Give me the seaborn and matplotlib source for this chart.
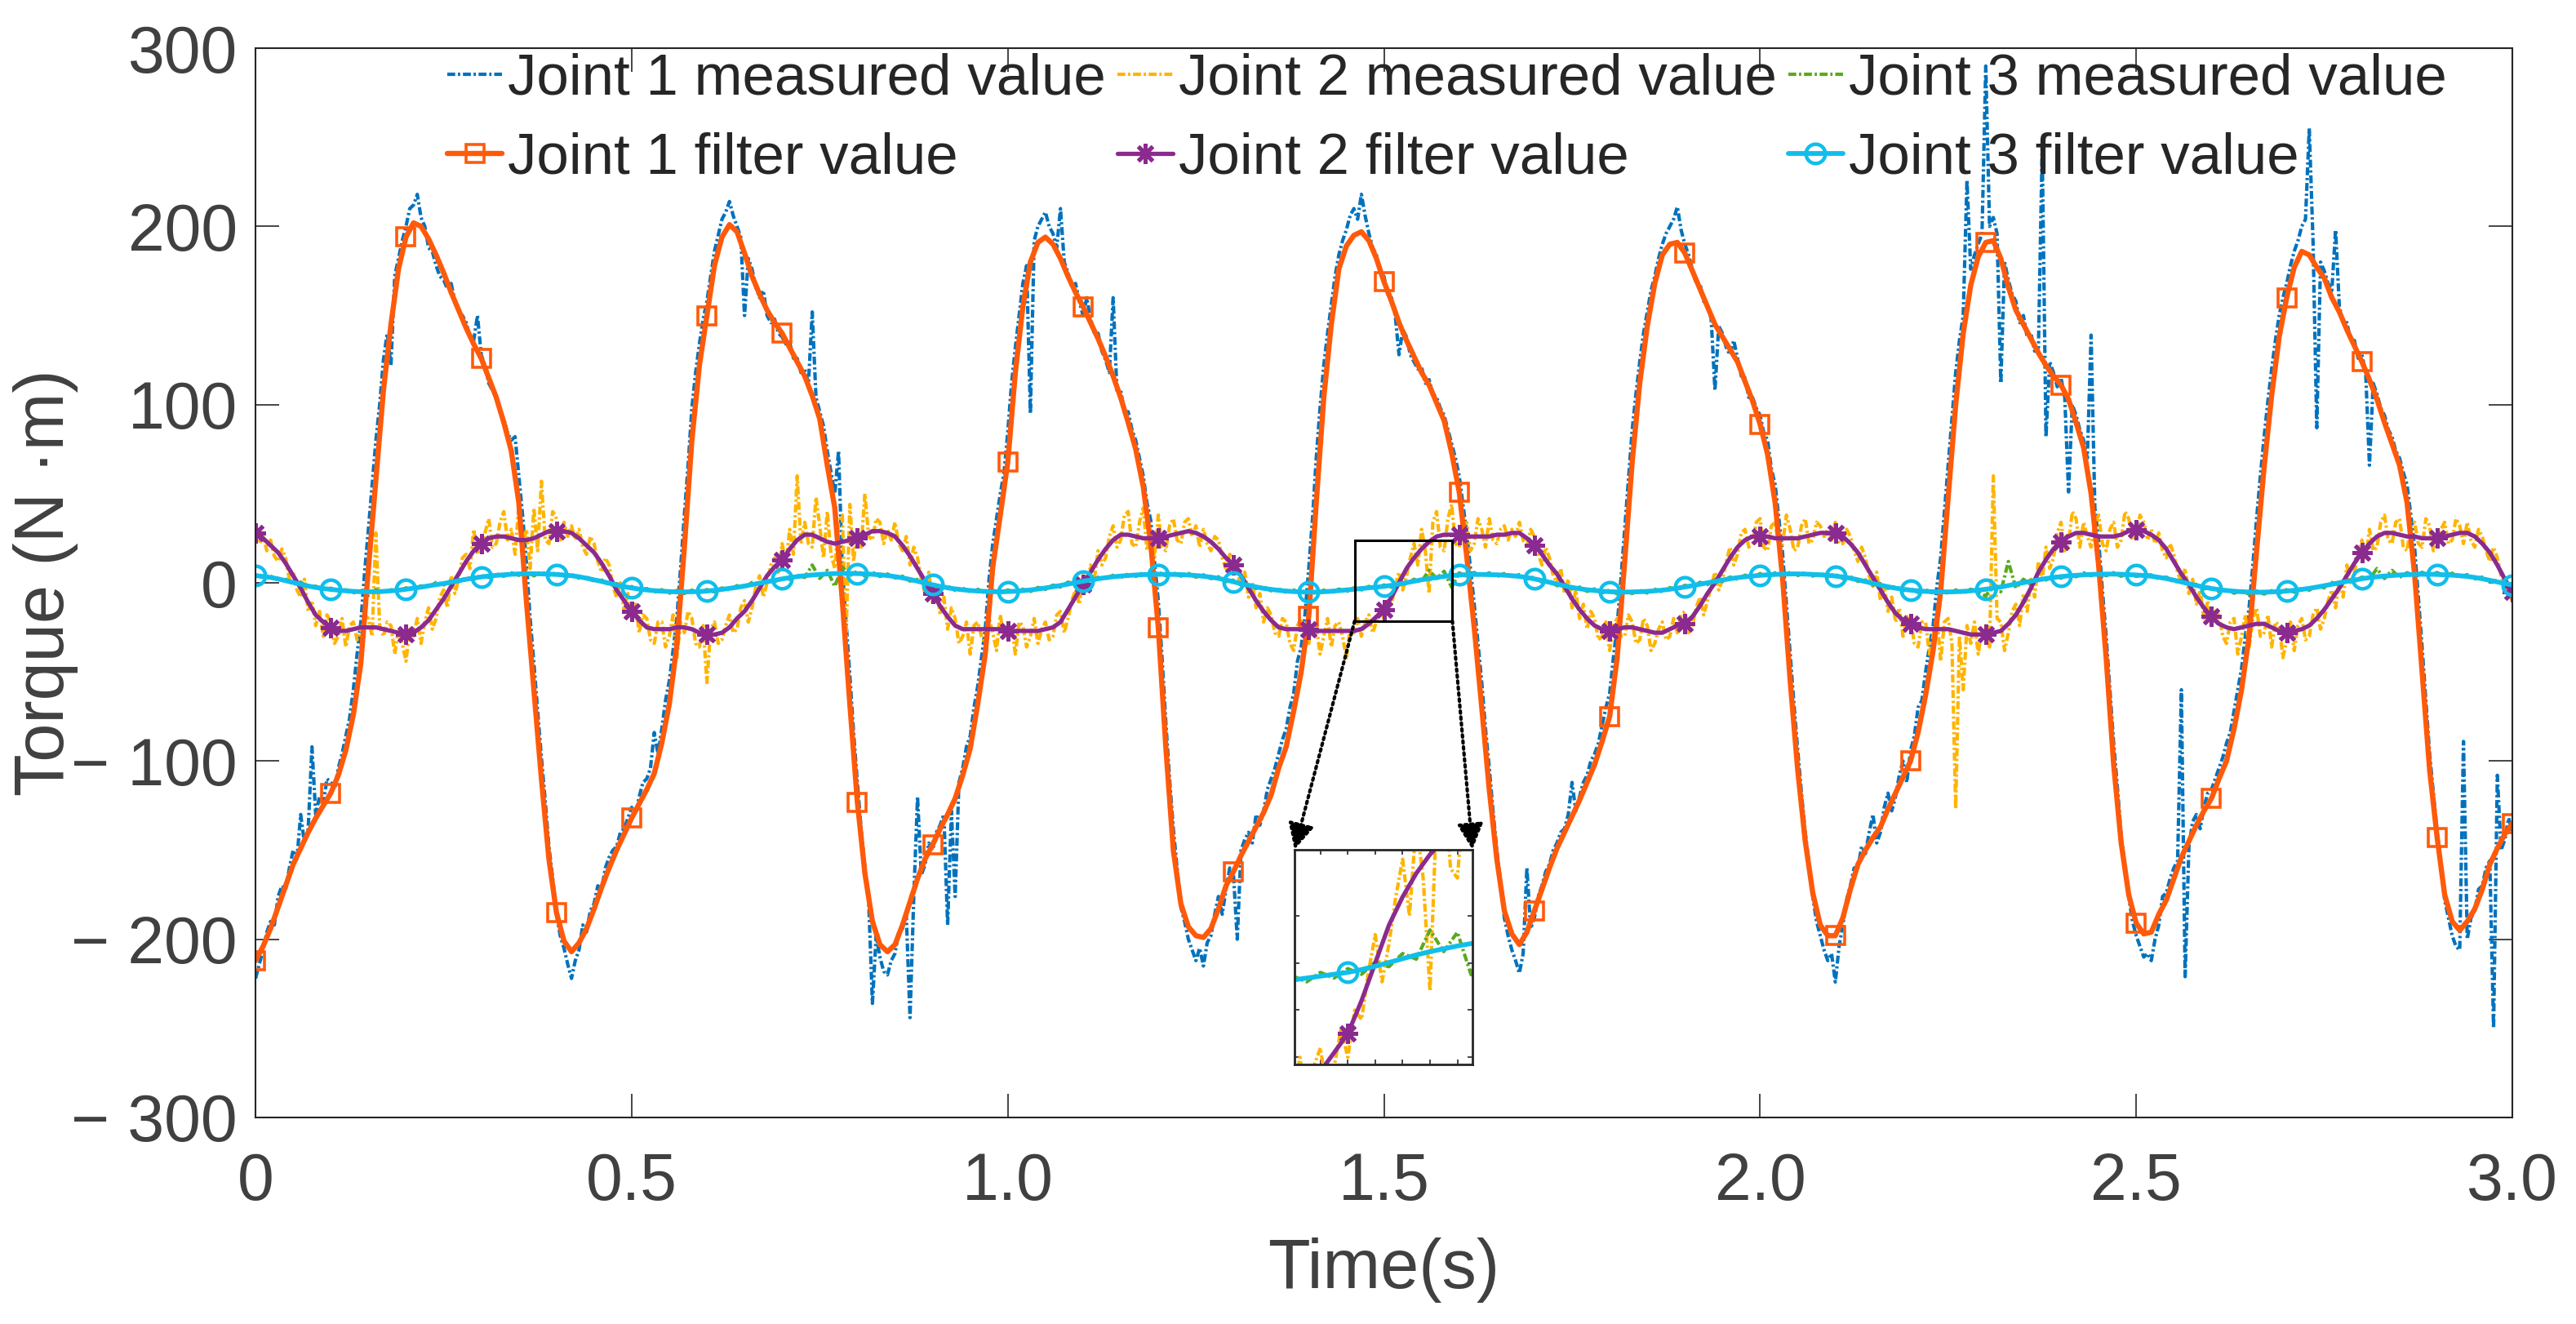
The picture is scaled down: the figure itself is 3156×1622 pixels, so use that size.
import numpy as np
import matplotlib
matplotlib.use('Agg')
import matplotlib.pyplot as plt
import seaborn as sns
from matplotlib.patches import Rectangle, ConnectionPatch
from matplotlib.ticker import FuncFormatter

# ---- data ---------------------------------------------------------------
# filter curves, sampled every 0.01 s (0 .. 3 s)
joint1_filter = [
    -212, -204, -194, -182, -170, -158, -149, -140, -132, -125,
    -118, -108, -94, -74, -45, 8, 58, 108, 145, 176,
    194, 202, 200, 193, 184, 174, 163, 153, 143, 134,
    126, 115, 104, 90, 74, 45, -10, -60, -110, -155,
    -185, -201, -207, -202, -194, -183, -171, -160, -150, -141,
    -132, -124, -116, -107, -90, -68, -35, 20, 80, 122,
    150, 178, 194, 201, 197, 185, 172, 162, 153, 146,
    140, 132, 124, 116, 105, 92, 66, 42, -10, -68,
    -123, -163, -190, -203, -207, -203, -192, -179, -166, -155,
    -147, -138, -130, -121, -108, -93, -68, -40, 9, 38,
    68, 118, 155, 180, 191, 194, 190, 182, 172, 163,
    155, 146, 137, 127, 116, 104, 90, 75, 54, 22,
    -25, -92, -150, -180, -193, -198, -199, -194, -183, -170,
    -162, -153, -145, -137, -129, -119, -104, -92, -72, -50,
    -19, 45, 104, 145, 176, 189, 195, 197, 192, 182,
    169, 158, 146, 136, 127, 118, 111, 101, 91, 73,
    51, 15, -25, -70, -116, -155, -184, -197, -203, -196,
    -184, -172, -160, -149, -140, -131, -122, -112, -102, -89,
    -75, -42, 12, 68, 112, 144, 168, 184, 190, 191,
    185, 175, 165, 155, 145, 138, 131, 124, 113, 102,
    89, 72, 45, 2, -55, -105, -145, -174, -192, -198,
    -198, -188, -172, -158, -150, -143, -137, -127, -118, -109,
    -100, -84, -63, -38, -5, 48, 100, 140, 167, 183,
    191, 192, 182, 166, 153, 145, 137, 129, 122, 116,
    111, 103, 90, 76, 50, 10, -42, -102, -146, -175,
    -191, -197, -196, -186, -178, -166, -154, -145, -136, -128,
    -121, -110, -100, -82, -60, -30, 18, 65, 105, 138,
    160, 177, 186, 184, 177, 171, 160, 152, 142, 133,
    124, 114, 103, 90, 78, 66, 45, 5, -50, -105,
    -143, -175, -190, -195, -190, -183, -172, -158, -149, -141,
    -135,
]
joint2_filter = [
    28, 25, 21, 17, 11, 4, -3, -11, -18, -22,
    -25, -27, -27, -26, -25, -25, -25, -26, -27, -28,
    -29, -28, -25, -21, -15, -9, -2, 5, 12, 18,
    22, 25, 26, 26, 25, 24, 24, 25, 27, 29,
    29, 29, 28, 25, 21, 17, 11, 4, -4, -10,
    -16, -21, -25, -26, -26, -26, -25, -25, -26, -28,
    -29, -29, -28, -25, -20, -16, -10, -3, 4, 9,
    13, 19, 24, 27, 27, 25, 23, 22, 23, 24,
    25, 27, 29, 29, 28, 26, 21, 15, 8, 1,
    -6, -13, -19, -24, -26, -26, -26, -26, -26, -26,
    -27, -27, -27, -27, -27, -26, -25, -22, -15, -8,
    -1, 6, 13, 19, 24, 27, 27, 26, 25, 25,
    25, 26, 27, 28, 29, 28, 26, 23, 19, 14,
    10, 4, -3, -10, -16, -21, -25, -26, -26, -26,
    -26, -27, -27, -27, -27, -27, -27, -26, -23, -19,
    -15, -8, 0, 8, 14, 19, 23, 26, 27, 27,
    27, 26, 26, 26, 26, 27, 27, 28, 28, 25,
    21, 16, 10, 5, -2, -9, -15, -20, -24, -26,
    -27, -26, -25, -25, -26, -27, -28, -28, -26, -24,
    -23, -19, -13, -6, 0, 7, 14, 20, 24, 26,
    26, 26, 25, 25, 25, 25, 26, 27, 28, 28,
    28, 26, 22, 17, 10, 3, -4, -11, -17, -21,
    -23, -25, -26, -26, -26, -26, -27, -28, -29, -29,
    -29, -28, -27, -23, -18, -11, -3, 6, 13, 19,
    23, 26, 28, 28, 27, 26, 26, 26, 27, 29,
    30, 29, 27, 24, 19, 12, 5, -1, -8, -14,
    -19, -23, -25, -26, -25, -24, -23, -23, -25, -27,
    -28, -27, -26, -24, -20, -15, -9, -3, 4, 11,
    17, 22, 26, 28, 28, 27, 26, 26, 25, 25,
    25, 26, 27, 28, 28, 26, 22, 17, 10, 2,
    -5,
]
joint3_filter = [
    4.0, 3.6, 3.0, 2.2, 1.2, 0.2, -0.8, -1.8, -2.6, -3.2,
    -3.7, -4.1, -4.5, -4.8, -5.0, -5.0, -5.0, -4.8, -4.5, -4.1,
    -3.6, -3.0, -2.4, -1.7, -1.0, -0.4, 0.4, 1.2, 2.0, 2.7,
    3.3, 3.8, 4.2, 4.5, 4.8, 5.0, 5.1, 5.1, 5.0, 4.9,
    4.7, 4.4, 4.0, 3.4, 2.6, 1.7, 0.8, -0.2, -1.2, -2.1,
    -2.9, -3.5, -4.0, -4.4, -4.7, -4.9, -5.1, -5.1, -5.0, -4.9,
    -4.6, -4.2, -3.7, -3.1, -2.5, -1.8, -1.0, -0.2, 0.6, 1.4,
    2.2, 2.9, 3.5, 4.0, 4.4, 4.7, 5.0, 5.2, 5.3, 5.3,
    5.2, 5.0, 4.8, 4.5, 4.1, 3.5, 2.8, 1.9, 0.9, -0.1,
    -1.1, -2.0, -2.8, -3.4, -3.9, -4.3, -4.6, -4.8, -5.0, -5.0,
    -4.9, -4.7, -4.4, -4.0, -3.5, -2.9, -2.2, -1.5, -0.7, 0.1,
    0.9, 1.6, 2.3, 2.9, 3.4, 3.8, 4.1, 4.4, 4.6, 4.7,
    4.8, 4.8, 4.7, 4.6, 4.4, 4.1, 3.7, 3.2, 2.5, 1.6,
    0.6, -0.4, -1.4, -2.3, -3.1, -3.7, -4.2, -4.6, -4.9, -5.1,
    -5.2, -5.2, -5.0, -4.7, -4.4, -4.0, -3.6, -3.2, -2.8, -2.4,
    -2.0, -1.4, -0.7, 0.1, 0.9, 1.7, 2.4, 3.0, 3.6, 4.1,
    4.4, 4.6, 4.7, 4.7, 4.6, 4.5, 4.3, 4.0, 3.6, 3.0,
    2.2, 1.3, 0.3, -0.7, -1.7, -2.6, -3.3, -3.9, -4.3, -4.7,
    -5.0, -5.1, -5.2, -5.1, -5.0, -4.8, -4.5, -4.1, -3.6, -3.0,
    -2.3, -1.6, -0.8, 0.0, 0.8, 1.6, 2.3, 2.9, 3.4, 3.8,
    4.2, 4.5, 4.7, 4.9, 5.0, 5.0, 4.9, 4.7, 4.5, 4.2,
    3.8, 3.3, 2.6, 1.7, 0.7, -0.3, -1.3, -2.2, -3.0, -3.6,
    -4.1, -4.5, -4.8, -5.0, -5.1, -5.1, -5.0, -4.8, -4.5, -4.1,
    -3.6, -3.0, -2.3, -1.5, -0.7, 0.1, 0.9, 1.7, 2.4, 3.0,
    3.5, 3.9, 4.2, 4.5, 4.7, 4.8, 4.9, 4.9, 4.8, 4.6,
    4.4, 4.1, 3.7, 3.1, 2.4, 1.5, 0.5, -0.5, -1.5, -2.4,
    -3.2, -3.8, -4.3, -4.7, -5.0, -5.2, -5.3, -5.2, -5.1, -4.9,
    -4.6, -4.2, -3.7, -3.1, -2.4, -1.6, -0.8, 0.0, 0.8, 1.6,
    2.3, 2.9, 3.4, 3.8, 4.1, 4.4, 4.6, 4.7, 4.8, 4.8,
    4.7, 4.5, 4.3, 4.0, 3.6, 3.0, 2.3, 1.4, 0.5, -0.4,
    -1.2,
]

# measured joint 1 and joint 2, sampled every 0.005 s
joint1_measured = [
    -222, -214, -206, -196, -190, -192, -176, -170, -172, -160, -150, -155, -130, -146, -138, -92, -130, -120, -124, -110,
    -112, -116, -104, -96, -86, -76, -60, -40, -22, 6, 30, 55, 80, 100, 125, 140, 122, 172, 182, 192,
    200, 210, 212, 218, 205, 200, 188, 186, 178, 172, 170, 165, 168, 158, 152, 150, 146, 138, 136, 150,
    128, 122, 112, 108, 105, 96, 92, 84, 80, 82, 60, 38, 12, -20, -45, -72, -98, -122, -148, -166,
    -186, -198, -205, -214, -222, -212, -206, -192, -196, -184, -180, -170, -172, -160, -154, -150, -148, -140, -138, -132,
    -126, -130, -120, -112, -110, -104, -84, -96, -82, -66, -55, -38, -20, 8, 38, 66, 98, 118, 134, 148,
    158, 172, 186, 195, 204, 208, 214, 206, 200, 194, 150, 182, 176, 166, 160, 164, 150, 146, 148, 140,
    138, 134, 135, 126, 126, 118, 120, 112, 152, 104, 96, 88, 74, 62, 50, 74, 8, -22, -52, -84,
    -112, -138, -160, -178, -236, -198, -210, -218, -220, -212, -208, -196, -194, -186, -244, -176, -120, -164, -158, -146,
    -150, -140, -136, -130, -192, -128, -176, -112, -104, -92, -86, -70, -58, -42, -26, 2, 22, 36, 50, 62,
    85, 112, 132, 150, 168, 178, 95, 192, 200, 204, 208, 200, 196, 188, 210, 180, 174, 166, 168, 158,
    150, 160, 148, 140, 140, 130, 125, 118, 160, 108, 108, 96, 96, 86, 80, 70, 60, 45, 35, 12,
    -10, -42, -78, -110, -138, -160, -182, -190, -200, -206, -212, -205, -215, -202, -198, -186, -176, -186, -172, -160,
    -164, -200, -150, -144, -140, -146, -130, -136, -128, -116, -110, -104, -96, -88, -82, -70, -62, -44, -36, -18,
    8, 36, 70, 98, 122, 140, 156, 172, 184, 192, 198, 206, 210, 204, 218, 206, 196, 188, 184, 174,
    172, 162, 160, 150, 128, 142, 138, 128, 124, 120, 121, 112, 114, 106, 104, 98, 94, 86, 78, 70,
    60, 44, 28, 8, -12, -34, -56, -82, -104, -128, -150, -168, -188, -198, -206, -212, -219, -208, -160, -194,
    -188, -176, -170, -162, -158, -150, -146, -140, -138, -130, -112, -128, -120, -112, -108, -100, -96, -90, -80, -70,
    -62, -42, -24, 2, 30, 58, 86, 106, 124, 140, 152, 164, 172, 182, 190, 196, 200, 204, 211, 198,
    190, 184, 176, 168, 168, 158, 156, 148, 108, 144, 140, 132, 128, 136, 126, 116, 115, 104, 104, 98,
    94, 84, 80, 64, 55, 36, 16, -12, -40, -68, -94, -118, -140, -158, -176, -190, -198, -206, -212, -208,
    -224, -204, -192, -178, -170, -160, -160, -148, -152, -140, -130, -146, -140, -126, -118, -128, -120, -108, -100, -112,
    -94, -86, -70, -66, -50, -36, -24, -2, 14, 40, 66, 92, 118, 136, 150, 226, 176, 184, 190, 196,
    290, 200, 205, 196, 112, 180, 170, 162, 158, 146, 150, 138, 140, 130, 132, 245, 82, 124, 118, 110,
    115, 104, 51, 100, 94, 86, 80, 70, 139, 42, 24, -4, -30, -60, -90, -115, -142, -160, -176, -190,
    -198, -204, -210, -208, -212, -200, -192, -176, -174, -166, -160, -156, -60, -221, -148, -134, -130, -138, -126, -118,
    -116, -110, -104, -98, -90, -84, -72, -60, -48, -30, -14, 10, 36, 60, 82, 102, 120, 136, 150, 160,
    168, 178, 186, 192, 200, 204, 255, 192, 87, 180, 175, 168, 164, 198, 155, 146, 146, 136, 136, 126,
    128, 118, 66, 112, 106, 98, 94, 86, 82, 74, 70, 62, 55, 38, 20, -8, -36, -66, -96, -118,
    -140, -160, -178, -188, -198, -204, -206, -89, -200, -188, -184, -172, -170, -160, -156, -250, -108, -150, -144, -132,
    -140,
]
joint2_measured = [
    30, 22, 26, 18, 24, 15, 12, 19, 14, 2, 6, -4, -8, 2, -16, -10, -24, -16, -30, -18,
    -22, -34, -30, -20, -36, -24, -22, -32, -28, -18, -20, -30, 28, -24, -30, -22, -24, -40, -26, -34,
    -44, -26, -30, -20, -34, -22, -14, -26, -20, -8, -4, -14, 4, -6, 2, 14, 16, 8, 30, 16,
    18, 28, 36, 20, 22, 34, 40, 24, 30, 16, 44, 20, 30, 8, 42, 18, 57, 24, 22, 40,
    36, 24, 34, 26, 32, 24, 30, 20, 16, 26, 22, 12, 6, 14, 10, -2, -8, 0, -16, -6,
    -20, -12, -28, -18, -20, -32, -34, -22, -22, -36, -30, -18, -42, -22, -28, -16, -20, -34, -36, -24,
    -56, -26, -22, -34, -32, -24, -18, -28, -26, -14, -10, -22, -14, -2, 4, -8, 0, 10, 14, 6,
    22, 10, 30, 16, 60, 22, 34, 22, 20, 48, 32, 14, 40, 16, 8, 34, 38, -30, 44, 12,
    30, 20, 50, 26, 24, 36, 34, 22, 30, 24, 34, 22, 18, 26, 10, 20, 14, 2, -6, 6,
    -12, -2, -18, -8, -26, -14, -20, -34, -30, -22, -40, -24, -22, -30, -34, -20, -28, -38, -18, -30,
    -32, -24, -40, -22, -24, -36, -30, -20, -34, -26, -22, -32, -30, -18, -16, -28, -20, -10, -4, -12,
    4, -4, 10, 2, 18, 10, 14, 26, 32, 20, 24, 38, 40, 22, 20, 34, 42, 18, 28, 14,
    38, 20, 18, 32, 36, 24, 22, 34, 36, 26, 32, 20, 30, 22, 18, 26, 24, 14, 8, 16,
    14, 4, 0, 6, -8, 0, -14, -6, -22, -14, -18, -28, -30, -20, -22, -34, -38, -24, -20, -30,
    -34, -22, -24, -40, -30, -20, -36, -24, -22, -30, -42, -26, -28, -20, -30, -22, -18, -28, -22, -14,
    -20, -10, -12, -2, 6, -4, 4, 14, 22, 10, 30, 18, -6, 34, 40, 20, 18, 36, 44, 22,
    20, 32, 34, 18, 22, 36, 30, 20, 36, 24, 22, 30, 32, 24, 30, 26, 34, 24, 20, 30,
    26, 16, 10, 20, 14, 4, 0, 8, -6, 2, -14, -4, -20, -12, -26, -16, -20, -32, -30, -22,
    -38, -24, -20, -30, -30, -18, -22, -34, -32, -20, -24, -38, -34, -26, -22, -32, -30, -20, -28, -18,
    -16, -28, -24, -14, -8, -18, -10, -2, 6, -4, 2, 12, 20, 10, 16, 28, 30, 20, 22, 34,
    36, 20, 18, 32, 34, 20, 22, 38, 30, 18, 20, 32, 36, 22, 24, 34, 32, 26, 30, 24,
    34, 22, 22, 30, 26, 18, 12, 20, 14, 4, -2, 6, -10, -2, -16, -8, -22, -14, -30, -18,
    -20, -34, -36, -22, -22, -40, -30, -18, -44, -22, -20, -34, -127, -30, -60, -24, -34, -22, -40, -26,
    -24, -36, 60, -20, -22, -38, -28, -16, -12, -24, -6, -16, 2, -8, 12, 2, 20, 8, 14, 28,
    34, 18, 22, 40, 36, 20, 34, 26, 20, 34, 38, 22, 18, 30, 34, 20, 24, 40, 36, 24,
    26, 38, 34, 24, 30, 22, 28, 18, 14, 22, 16, 6, 0, 8, -6, 2, -12, -4, -20, -10,
    -24, -16, -18, -30, -34, -22, -20, -40, -30, -18, -36, -20, -14, -30, -28, -18, -36, -22, -24, -42,
    -32, -22, -38, -24, -20, -32, -30, -18, -14, -26, -20, -10, -4, -14, 2, -8, 10, 0, 6, 16,
    24, 14, 30, 18, 20, 34, 38, 24, 22, 34, 36, 20, 18, 32, 34, 22, 20, 36, 32, 18,
    22, 30, 34, 22, 24, 36, 32, 22, 34, 24, 20, 30, 26, 18, 12, 20, 14, 4, -2, -6,
    -10,
]
# measured joint 3, sampled every 0.01 s
joint3_measured = [
    4.5, 3.0, 3.8, 1.6, 2.0, -0.6, 0.4, -2.4, -1.9, -3.8, -3.0, -4.8, -3.9, -5.6, -4.4, -7.0, -3.8, -5.5, -3.9, -4.9,
    -2.8, -3.6, -1.7, -2.5, 0.2, -1.2, 1.3, 0.6, 2.8, 2.0, 4.1, 3.0, 5.0, 3.7, 5.6, 4.2, 7.0, 3.9, 6.0, 4.2, 5.5, 3.8,
    4.8, 2.6, 3.3, 0.9, 1.6, -1.0, -0.4, -2.9, -2.1, -4.3, -3.2, -5.2, -3.9, -5.8, -4.3, -6.0, -4.1, -5.8, -3.8, -5.1,
    -2.9, -4.0, -1.6, -2.7, 0.2, -1.1, 1.5, 0.6, 3.0, 2.0, 4.4, 3.0, 10.0, 2.5, 7.0, -2.0, 9.0, 4.0, 6.5, 3.8, 5.9, 3.6,
    5.0, 2.8, 3.7, 1.0, 1.9, -1.0, -0.2, -2.9, -1.9, -4.2, -3.0, -5.1, -3.6, -5.7, -4.1, -5.9, -4.0, -5.5, -3.6, -4.9,
    -2.6, -3.7, -1.3, -2.4, 0.4, -0.8, 1.8, 0.9, 3.1, 2.1, 4.3, 3.0, 5.0, 3.6, 5.6, 3.9, 5.8, 4.0, 5.6, 3.8, 5.3, 3.2,
    4.5, 2.4, 3.4, 0.7, 1.5, -1.3, -0.6, -3.2, -2.2, -4.5, -3.4, -5.4, -4.0, -6.0, -4.4, -6.1, -4.1, -5.6, -3.5, -5.0,
    -2.8, -4.0, -2.0, -3.2, -1.2, -2.4, 0.2, -0.8, 2.0, 0.8, 7.0, 2.4, 6.5, -2.5, 5.6, 3.6, 5.8, 4.0, 5.6, 3.6, 5.2, 3.5,
    4.6, 2.2, 3.2, 0.4, 1.2, -1.6, -0.8, -3.4, -2.4, -4.8, -3.4, -5.6, -4.1, -6.2, -4.4, -6.0, -4.1, -5.7, -3.6, -5.0,
    -2.7, -3.9, -1.4, -2.6, 0.3, -1.0, 1.7, 0.7, 3.2, 2.0, 4.3, 3.0, 5.2, 3.6, 5.6, 4.0, 5.9, 4.1, 5.7, 3.8, 5.4, 3.4,
    4.8, 2.4, 3.5, 0.8, 1.6, -1.2, -0.4, -3.1, -2.0, -4.5, -3.2, -5.4, -3.9, -5.8, -4.2, -6.0, -4.0, -5.7, -3.6, -5.0,
    -7.5, -1.0, -5.0, 12.0, -3.0, 2.0, -1.0, 3.2, 1.6, 4.0, 2.6, 4.8, 3.4, 5.6, 4.0, 5.8, 4.0, 5.7, 3.7, 5.3, 3.6, 4.6,
    4.4, 2.2, 3.2, 0.5, 1.4, -1.6, -0.8, -3.4, -2.4, -4.9, -3.6, -5.8, -4.3, -6.4, -4.6, -6.3, -4.4, -5.9, -3.8, -5.2,
    -2.9, -4.1, -1.6, -2.8, 0.2, -1.1, 1.6, 0.5, 3.2, 2.0, 8.0, 2.4, 7.0, 3.0, 5.7, 3.9, 5.9, 4.0, 5.8, 3.7, 5.4, 3.2,
    4.6, 2.2, 3.2, 0.6, 1.4, -1.2, -1.6,
]

labels = ['Joint 1 measured value', 'Joint 1 filter value',
          'Joint 2 measured value', 'Joint 2 filter value',
          'Joint 3 measured value', 'Joint 3 filter value']
x_ticks = [0, 0.5, 1.0, 1.5, 2.0, 2.5, 3.0]
y_ticks = [-300, -200, -100, 0, 100, 200, 300]

# time bases
t_f = np.arange(len(joint1_filter)) * 0.01
t_m = np.arange(len(joint1_measured)) * 0.005
t_m2 = np.arange(len(joint2_measured)) * 0.005
t_m3 = np.arange(len(joint3_measured)) * 0.01

# ---- style ----------------------------------------------------------------
sns.set_theme(style='ticks')
plt.rcParams['font.family'] = ['Liberation Sans', 'DejaVu Sans']
plt.rcParams['lines.scale_dashes'] = False
plt.rcParams['axes.unicode_minus'] = True

c_j1m, c_j2m, c_j3m = '#0072BD', '#FFB400', '#5AAA1E'
c_j1f, c_j2f, c_j3f = '#FF5A0A', '#8B2A8F', '#10BEEB'
dashdot = (0, (3.5, 1.2, 1.0, 1.2))
asterisk = (8, 2, 0)


def draw(ax):
    out = []
    for t, v, c in [(t_m, joint1_measured, c_j1m), (t_m2, joint2_measured, c_j2m),
                    (t_m3, joint3_measured, c_j3m)]:
        sns.lineplot(x=t, y=v, ax=ax, color=c, lw=1.5, linestyle=dashdot,
                     estimator=None, sort=False, errorbar=None)
        out.append(ax.lines[-1])
    sns.lineplot(x=t_f, y=joint1_filter, ax=ax, color=c_j1f, lw=2.3, marker='s', ms=8,
                 mfc='none', mec=c_j1f, mew=1.3, markevery=10, estimator=None, sort=False, errorbar=None)
    out.append(ax.lines[-1])
    sns.lineplot(x=t_f, y=joint2_filter, ax=ax, color=c_j2f, lw=1.9, marker=asterisk, ms=9,
                 mec=c_j2f, mew=1.8, markevery=10, estimator=None, sort=False, errorbar=None)
    out.append(ax.lines[-1])
    sns.lineplot(x=t_f, y=joint3_filter, ax=ax, color=c_j3f, lw=2.1, marker='o', ms=8.5,
                 mfc='none', mec=c_j3f, mew=1.6, markevery=10, estimator=None, sort=False, errorbar=None)
    out.append(ax.lines[-1])
    ax.set_xlabel('')
    ax.set_ylabel('')
    return out


fig = plt.figure(figsize=(15.78, 8.11), dpi=200)
ax = fig.add_axes([0.0992, 0.1560, 0.8761, 0.8076])
m1, m2, m3, f1, f2, f3 = draw(ax)

ax.set_xlim(0, 3)
ax.set_ylim(-300, 300)
ax.set_xticks(x_ticks)
ax.set_yticks(y_ticks)
ax.xaxis.set_major_formatter(FuncFormatter(lambda v, p: '0' if v == 0 else f'{v:.1f}'))
ax.yaxis.set_major_formatter(FuncFormatter(
    lambda v, p: f'\u2212 {abs(int(round(v)))}' if v < 0 else f'{int(round(v))}'))
ax.tick_params(axis='both', direction='in', length=10.4, width=0.6, color='#262626',
               labelsize=29, labelcolor='#404040', top=True, right=True)
ax.tick_params(axis='x', pad=15)
ax.tick_params(axis='y', pad=8)
for s in ax.spines.values():
    s.set_linewidth(0.75)
    s.set_color('#262626')
    s.set_visible(True)

ax.set_xlabel('Time(s)', fontsize=30.5, color='#404040', labelpad=10.5)
ax.set_ylabel('Torque (N \u00b7m)', fontsize=30.5, color='#404040')
ax.yaxis.set_label_coords(-0.0785, 0.5)

ax.legend([m1, f1, m2, f2, m3, f3], labels, ncol=3, loc='upper left',
          bbox_to_anchor=(548 / 3156, 0.960), bbox_transform=fig.transFigure,
          frameon=False, fontsize=25.5, handlelength=0.95, handletextpad=0.1,
          columnspacing=0.2, labelspacing=0.43, borderpad=0, borderaxespad=0)

# ---- zoomed inset ----------------------------------------------------------
zx = (1.461, 1.591)
zy = (-21.5, 24.0)
axins = fig.add_axes([0.5025, 0.1961, 0.0691, 0.1621])
draw(axins)
axins.set_xlim(*zx)
axins.set_ylim(*zy)
axins.set_xticks([1.48, 1.50, 1.52, 1.54, 1.56, 1.58])
axins.set_yticks([-20, -10, 0, 10])
axins.tick_params(axis='both', direction='in', length=2.0, width=0.6, color='#262626',
                  labelbottom=False, labelleft=False, top=True, right=True)
for s in axins.spines.values():
    s.set_linewidth(1.0)
    s.set_color('#262626')
    s.set_visible(True)

ax.add_patch(Rectangle((zx[0], zy[0]), zx[1] - zx[0], zy[1] - zy[0], fill=False,
                       ec='black', lw=1.1, zorder=6))
for xa, xb in [(zx[0], 0), (zx[1], 1)]:
    con = ConnectionPatch(xyA=(xa, zy[0]), coordsA=ax.transData, xyB=(xb, 1),
                          coordsB=axins.transAxes, arrowstyle='-|>', linestyle=':',
                          lw=1.5, color='black', mutation_scale=24, zorder=7)
    fig.add_artist(con)

fig.savefig('out.png', dpi=200)
